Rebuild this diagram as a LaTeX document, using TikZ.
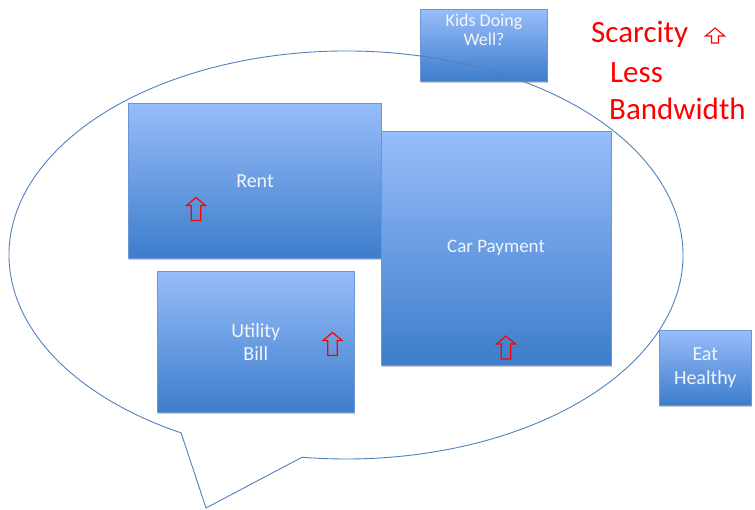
\documentclass[tikz,border=0pt]{standalone}
\usepackage{fontspec}
\setmainfont{Carlito}
\usetikzlibrary{shadows}
\definecolor{boxtop}{HTML}{97BDFA}
\definecolor{boxbot}{HTML}{3D7DCB}
\definecolor{boxline}{HTML}{6A97D3}
\definecolor{bubline}{HTML}{4F81BD}
\definecolor{txtwhite}{HTML}{F2F5FA}
\tikzset{
  bluebox/.style={rectangle, draw=boxline, line width=0.6pt, top color=boxtop, bottom color=boxbot,
    inner sep=0pt, anchor=north west, text=txtwhite, align=center,
    drop shadow={opacity=0.35, shadow xshift=1pt, shadow yshift=-1.5pt, fill=black!60}},
  boxtext/.style={text=txtwhite, align=center, inner sep=0pt},
  bubble/.style={draw=bubline, line width=0.9pt},
  redtext/.style={text=red, font=\fontsize{31}{33}\selectfont, anchor=base west, inner sep=0pt},
  uparrow/.pic={\draw[red, line width=1.2pt, line join=miter]
     (0,-11.5) -- (9.5,-3.5) -- (4.8,-3.5) -- (4.8,11.5) -- (-4.8,11.5) -- (-4.8,-3.5) -- (-9.5,-3.5) -- cycle;},
  smallarrow/.pic={\draw[red, line width=1.1pt, line join=miter]
     (0,-7.5) -- (9.5,0.5) -- (3.5,0.5) -- (3.5,7.5) -- (-3.5,7.5) -- (-3.5,0.5) -- (-9.5,0.5) -- cycle;}
}
\begin{document}
\begin{tikzpicture}[x=1pt,y=-1pt]
\useasboundingbox (0,0) rectangle (755,510);
% Kids box (behind bubble)
\node[bluebox, minimum width=127pt, minimum height=72pt] (kids) at (420,9) {};
\node[boxtext, font=\fontsize{18}{19}\selectfont, anchor=north] (kidstxt) at (484,13.5) {Kids Doing\\Well?};
% bubble
\draw[bubble] (346,255) ++(119.3:337 and 204) arc[start angle=119.3, end angle=457.5, x radius=337, y radius=204] coordinate (tailend) -- (206,508) coordinate (tailtip) -- cycle;
% boxes
\node[bluebox, minimum width=253pt, minimum height=155pt] (rent) at (128,103) {};
\node[boxtext, font=\fontsize{20}{22}\selectfont] (renttxt) at (255,181) {Rent};
\node[bluebox, minimum width=230pt, minimum height=234pt, font=\fontsize{19}{21}\selectfont] (car) at (381,131) {};
\node[boxtext, font=\fontsize{19}{21}\selectfont] (cartxt) at (496,248) {Car Payment};
\node[bluebox, minimum width=197pt, minimum height=141pt, font=\fontsize{20}{23}\selectfont] (util) at (157,271) {Utility\\Bill};
\node[bluebox, minimum width=92pt, minimum height=75pt, font=\fontsize{20}{24}\selectfont] (eat) at (659,330) {Eat\\Healthy};
% red arrows
\pic at (196,209) {uparrow};
\pic at (332.5,344) {uparrow};
\pic at (506,347.5) {uparrow};
% red text
\node[redtext] (scar) at (591,43) {Scarcity};
\pic at (715,35.5) {smallarrow};
\node[redtext] (less) at (610,83) {Less};
\node[redtext] (band) at (609,120) {Bandwidth};
\end{tikzpicture}
\end{document}
